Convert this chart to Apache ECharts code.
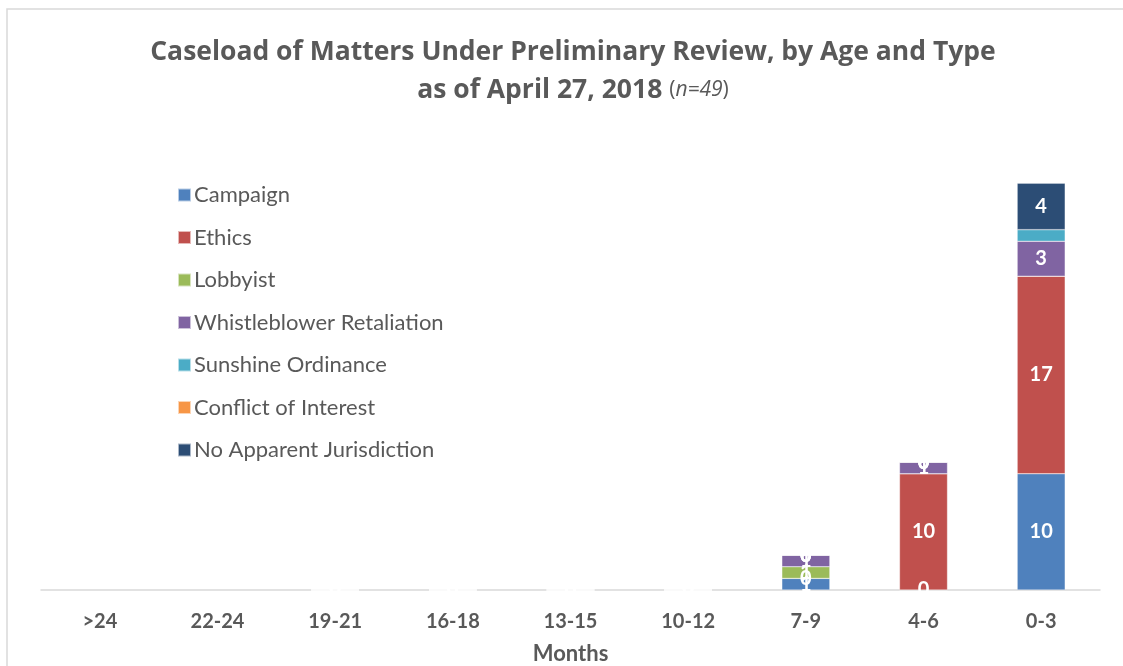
<!DOCTYPE html>
<html><head><meta charset="utf-8">
<script src="https://cdn.jsdelivr.net/npm/echarts@6/dist/echarts.min.js"></script>
<style>html,body{margin:0;padding:0;background:#fff}#c{width:1123px;height:666px}</style>
</head><body><div id="c"></div>
<script>
const categories = ['>24','22-24','19-21','16-18','13-15','10-12','7-9','4-6','0-3'];
const campaign      = [null,null,0,0,0,0,1,0,10];
const ethics        = [null,null,0,0,0,0,0,10,17];
const lobbyist      = [null,null,0,0,0,0,1,0,0];
const whistleblower = [null,null,0,0,0,0,1,1,3];
const sunshine      = [null,null,0,0,0,0,0,0,1];
const conflict      = [null,null,0,0,0,0,0,0,0];
const noJurisdiction= [null,null,0,0,0,0,0,0,4];
// data labels that were removed in the original chart
const hiddenLabels = [['Lobbyist','0-3'],['Sunshine Ordinance','0-3'],['Conflict of Interest','0-3'],['Lobbyist','4-6']];

const seriesDefs = [
  ['Campaign', campaign, '#4F81BD'],
  ['Ethics', ethics, '#C0504D'],
  ['Lobbyist', lobbyist, '#9BBB59'],
  ['Whistleblower Retaliation', whistleblower, '#8064A2'],
  ['Sunshine Ordinance', sunshine, '#4BACC6'],
  ['Conflict of Interest', conflict, '#F79646'],
  ['No Apparent Jurisdiction', noJurisdiction, '#2C4D75']
];
const FONT = 'Lato, "Open Sans", sans-serif';
const TFONT = '"Open Sans", Lato, sans-serif';
const chart = echarts.init(document.getElementById('c'), null, {renderer:'canvas'});
chart.setOption({
  animation:false,
  backgroundColor:'#fff',
  textStyle:{fontFamily:FONT},
  graphic:[{type:'rect',shape:{x:7,y:9,width:1130,height:700},style:{fill:'none',stroke:'#D9D9D9',lineWidth:1.5},silent:true}],
  title:{
    left:568, textAlign:'center', top:28,
    text:'Caseload of Matters Under Preliminary Review, by Age and Type\n{b|as of April 27, 2018 }{p|(}{i|n=49}{p|)}',
    textStyle:{fontFamily:TFONT,fontWeight:'bold',fontSize:26.5,color:'#595959',lineHeight:38,
      rich:{b:{fontFamily:TFONT,fontWeight:'bold',fontSize:26.5,color:'#595959',lineHeight:38},
            p:{fontFamily:TFONT,fontWeight:'normal',fontSize:21,color:'#595959',lineHeight:38},
            i:{fontFamily:TFONT,fontWeight:'normal',fontStyle:'italic',fontSize:21,color:'#595959',lineHeight:38}}}
  },
  legend:{
    orient:'vertical', left:172, top:179,
    itemWidth:13, itemHeight:13, itemGap:20.5,
    icon:'rect',
    textStyle:{fontFamily:FONT,fontSize:22,color:'#595959',padding:[0,0,0,-2]},
    data:seriesDefs.map(s=>s[0])
  },
  grid:{left:41,right:23,top:125,bottom:76,containLabel:false,outerBoundsMode:'none'},
  xAxis:{
    type:'category', data:categories,
    name:'Months', nameLocation:'middle', nameGap:53,
    nameTextStyle:{fontFamily:FONT,fontWeight:'bold',fontSize:22,color:'#595959'},
    axisLine:{lineStyle:{color:'#D9D9D9',width:1.5}},
    axisTick:{show:false},
    axisLabel:{fontFamily:FONT,fontWeight:'bold',fontSize:20,color:'#595959',margin:22}
  },
  yAxis:{type:'value',min:0,max:40,show:false,splitLine:{show:false}},
  series:seriesDefs.map(s=>({
    name:s[0], type:'bar', stack:'total', barWidth:48,
    data:s[1].map((v,i)=>{
      const hide = hiddenLabels.some(h=>h[0]===s[0] && h[1]===categories[i]);
      return hide ? {value:v,label:{show:false}} : v;
    }),
    itemStyle:{color:s[2],borderColor:'rgba(255,255,255,0.6)',borderWidth:0.5},
    label:{show:true,position:'inside',color:'#fff',fontFamily:FONT,fontWeight:'bold',fontSize:20},
    z:2
  }))
});
</script></body></html>
